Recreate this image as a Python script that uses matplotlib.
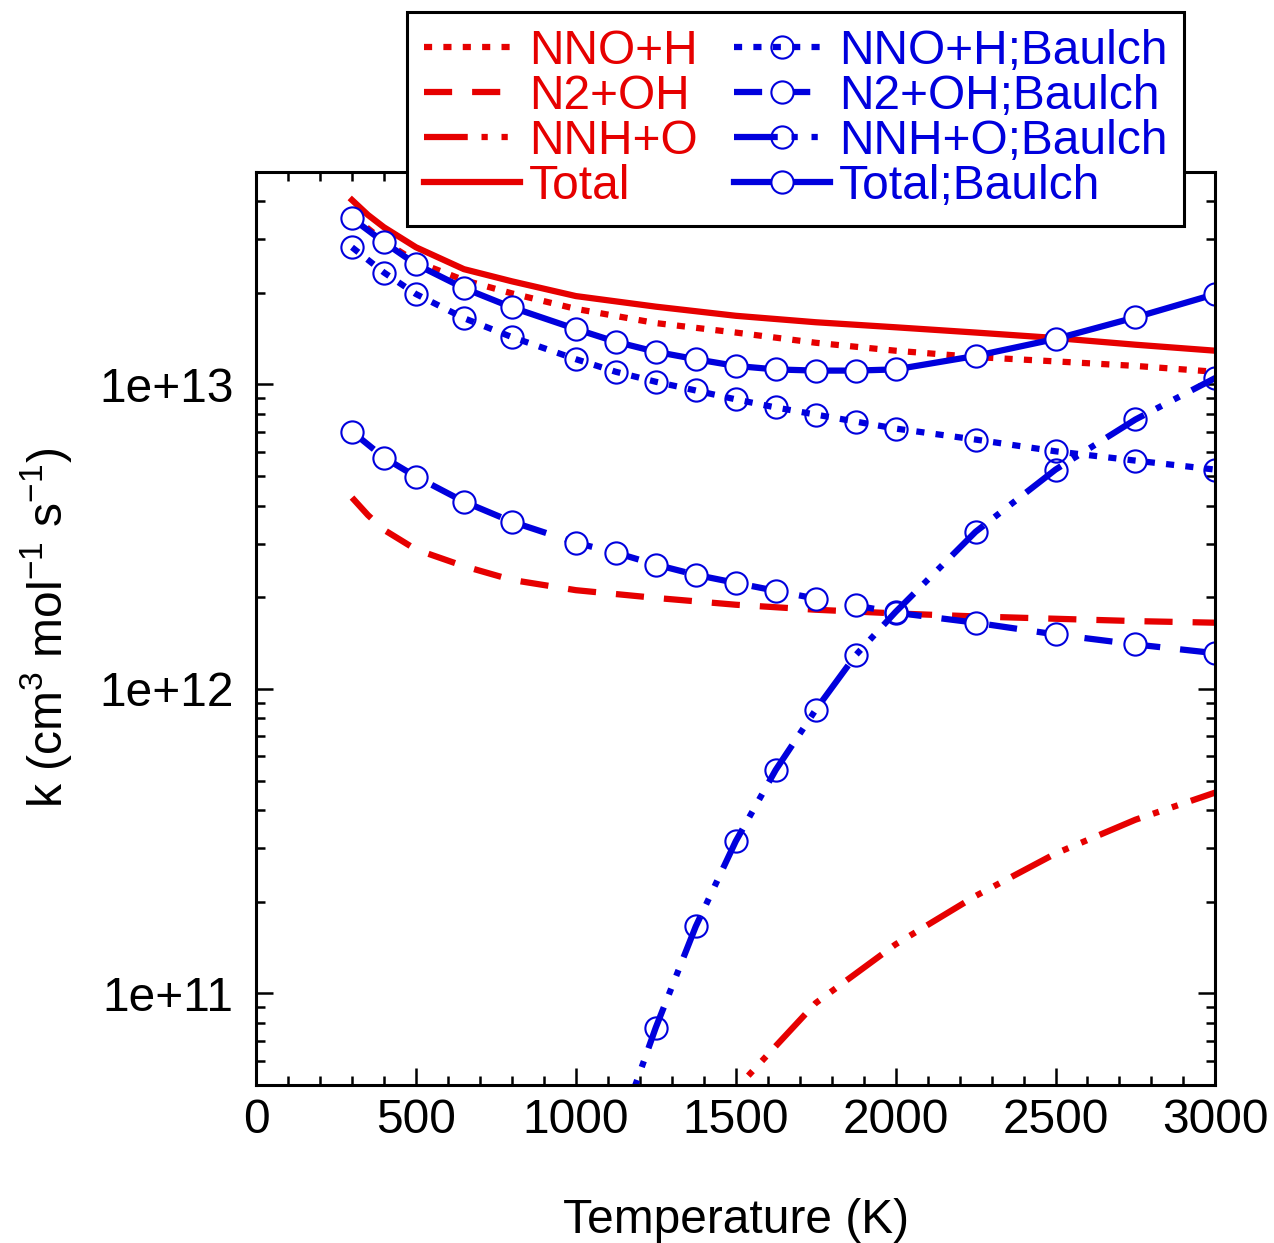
import matplotlib
matplotlib.use("Agg")
import matplotlib.pyplot as plt
from matplotlib.ticker import FuncFormatter, LogLocator, MultipleLocator
import numpy as np

plt.rcParams['font.family'] = ['Liberation Sans', 'DejaVu Sans']
plt.rcParams['mathtext.default'] = 'regular'

RED = '#e60000'
BLUE = '#0000dd'

# computed rate constants (red curves)
T_calc = [300, 350, 400, 500, 650, 800, 1000, 1250, 1500, 1750, 2000, 2250, 2500, 2750, 3000]
k_nnoh = [3.6e13, 3.25e13, 2.95e13, 2.53e13, 2.2e13, 1.99e13, 1.77e13, 1.59e13, 1.48e13,
          1.37e13, 1.29e13, 1.23e13, 1.19e13, 1.15e13, 1.10e13]
k_n2oh = [4.25e12, 3.72e12, 3.33e12, 2.87e12, 2.53e12, 2.28e12, 2.11e12, 1.99e12, 1.89e12,
          1.82e12, 1.77e12, 1.73e12, 1.70e12, 1.67e12, 1.65e12]
k_total = [4.03e13, 3.6e13, 3.28e13, 2.82e13, 2.39e13, 2.18e13, 1.95e13, 1.80e13, 1.68e13,
           1.60e13, 1.54e13, 1.48e13, 1.42e13, 1.35e13, 1.29e13]

T_nnho = [1250, 1500, 1750, 2000, 2250, 2500, 2750, 3000]
k_nnho = [2.1e10, 4.85e10, 9.3e10, 1.45e11, 2.09e11, 2.88e11, 3.72e11, 4.57e11]

# Baulch evaluation (blue, with markers)
T_b = [300, 400, 500, 650, 800, 1000, 1125, 1250, 1375, 1500, 1625, 1750, 1875, 2000,
       2250, 2500, 2750, 3000]
kb_nnoh = [2.82e13, 2.33e13, 1.98e13, 1.65e13, 1.43e13, 1.21e13, 1.10e13, 1.02e13, 9.55e12,
           8.93e12, 8.4e12, 7.96e12, 7.55e12, 7.16e12, 6.59e12, 6.03e12, 5.62e12, 5.25e12]
kb_n2oh = [7.0e12, 5.75e12, 4.98e12, 4.12e12, 3.54e12, 3.02e12, 2.80e12, 2.56e12, 2.37e12,
           2.23e12, 2.10e12, 1.98e12, 1.88e12, 1.78e12, 1.65e12, 1.51e12, 1.40e12, 1.31e12]
kb_total = [3.51e13, 2.93e13, 2.48e13, 2.07e13, 1.79e13, 1.52e13, 1.38e13, 1.28e13, 1.21e13,
            1.15e13, 1.12e13, 1.11e13, 1.11e13, 1.12e13, 1.24e13, 1.41e13, 1.66e13, 1.98e13]
T_bnnho = [1125, 1250, 1375, 1500, 1625, 1750, 1875, 2000, 2250, 2500, 2750, 3000]
kb_nnho = [3.3e10, 7.73e10, 1.66e11, 3.16e11, 5.42e11, 8.54e11, 1.29e12, 1.79e12, 3.28e12,
           5.25e12, 7.67e12, 1.05e13]

fig = plt.figure(figsize=(12.74, 12.43), dpi=100)
ax = fig.add_axes([0.201, 0.127, 0.753, 0.735])

lw = 4.5
dot = (0, (1.3, 1.8))
dash = (0, (4.5, 3.2))
dashdotdot = (0, (7, 2.2, 1.0, 2.2, 1.0, 2.2))

ax.plot(T_calc, k_nnoh, color=RED, lw=lw, ls=dot, dash_capstyle='butt', label='NNO+H')
ax.plot(T_calc, k_n2oh, color=RED, lw=lw, ls=dash, dash_capstyle='butt', label='N2+OH')
ax.plot(T_nnho, k_nnho, color=RED, lw=lw, ls=dashdotdot, dash_capstyle='butt', label='NNH+O')
ax.plot(T_calc, k_total, color=RED, lw=lw, label='Total')

mk = dict(marker='o', ms=16, mew=1.5, mec=BLUE)
ax.plot(T_b, kb_nnoh, color=BLUE, lw=lw, ls=dot, dash_capstyle='butt', mfc='none',
        label='NNO+H;Baulch', **mk)
ax.plot(T_b, kb_n2oh, color=BLUE, lw=lw, ls=dash, dash_capstyle='butt', mfc='white',
        label='N2+OH;Baulch', **mk)
ax.plot(T_bnnho, kb_nnho, color=BLUE, lw=lw, ls=dashdotdot, dash_capstyle='butt', mfc='none',
        label='NNH+O;Baulch', **mk)
ax.plot(T_b, kb_total, color=BLUE, lw=lw, mfc='white', label='Total;Baulch', **mk)

ax.set_yscale('log')
ax.set_xlim(0, 3000)
ax.set_ylim(5e10, 5e13)
ax.xaxis.set_major_locator(MultipleLocator(500))
ax.xaxis.set_minor_locator(MultipleLocator(100))
ax.yaxis.set_major_locator(LogLocator(base=10, numticks=10))
ax.yaxis.set_minor_locator(LogLocator(base=10, subs=np.arange(2, 10), numticks=20))
ax.yaxis.set_major_formatter(FuncFormatter(lambda v, p: '1e+%d' % round(np.log10(v))))
ax.yaxis.set_minor_formatter(FuncFormatter(lambda v, p: ''))

ax.tick_params(which='both', direction='in', top=True, right=True, width=1.8,
               labelsize=34.5, colors='black')
ax.tick_params(which='major', length=12)
ax.tick_params(which='minor', length=6.5)
ax.tick_params(axis='x', pad=9)
ax.tick_params(axis='y', pad=16)
for s in ax.spines.values():
    s.set_linewidth(2.2)

ax.set_xlabel('Temperature (K)', fontsize=34.5, labelpad=40)
ax.set_ylabel('k (cm$^{3}$ mol$^{-1}$ s$^{-1}$)', fontsize=34.5, labelpad=18)

leg = fig.legend(loc='upper left', bbox_to_anchor=(407 / 1274, 1 - 12 / 1243), ncol=2,
                 fontsize=34.5, frameon=True, fancybox=False, edgecolor='black',
                 framealpha=1, handlelength=2.0, handletextpad=0.2, columnspacing=0.75,
                 labelspacing=0.0, borderpad=0.35, borderaxespad=0)
leg.get_frame().set_linewidth(2.2)
leg.set_zorder(10)
for txt, line in zip(leg.get_texts(), leg.get_lines()):
    txt.set_color(line.get_color())

fig.savefig('out.png', dpi=100)
